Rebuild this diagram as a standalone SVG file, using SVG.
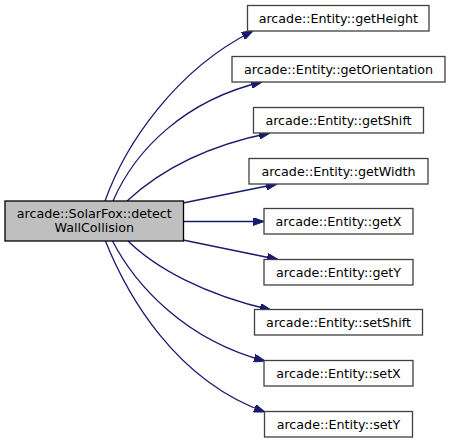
<svg xmlns="http://www.w3.org/2000/svg" width="451" height="443" viewBox="0 0 451 443">
<style>
text{font-family:"DejaVu Sans","Liberation Sans",sans-serif;font-size:12.7px;fill:#000;text-anchor:middle}
.n rect{fill:#fff;stroke:#404040;stroke-width:1.3}
.cur rect{fill:#bfbfbf;stroke:#000;stroke-width:1.3}
.e path{fill:none;stroke:#191970;stroke-width:1.3;marker-end:url(#ah)}
</style>
<defs>
<marker id="ah" viewBox="0 0 11 8" refX="11" refY="4" markerWidth="11" markerHeight="8" markerUnits="userSpaceOnUse" orient="auto">
<path d="M0,0 L11,4 L0,8 z" fill="#191970" stroke="#191970" stroke-width="1"/>
</marker>
</defs>
<rect width="451" height="443" fill="#fff"/>
<g id="connectors" class="e">
<path d="M105,201 C125,145 175,70 253,31"/>
<path d="M113,201 C135,150 185,100 262,82"/>
<path d="M127,201 C155,175 200,147 270,133"/>
<path d="M183,203 L277,184"/>
<path d="M184,221.5 L264,221.5"/>
<path d="M183,240 L278,259.5"/>
<path d="M127,240 C155,268 205,295 271,310"/>
<path d="M112,240 C135,285 185,340 265,361"/>
<path d="M105,240 C127,295 175,380 265,412"/>
</g>
<g id="main" class="cur"><rect x="5" y="201" width="178.5" height="40"/><text x="94.3" y="217.5">arcade::SolarFox::detect</text><text x="94.3" y="231.5">WallCollision</text></g>
<g id="getHeight" class="n"><rect x="247.5" y="5.5" width="181.5" height="25.5"/><text x="338.3" y="22.5">arcade::Entity::getHeight</text></g>
<g id="getOrientation" class="n"><rect x="232" y="56.5" width="213" height="25.5"/><text x="338.5" y="73.5">arcade::Entity::getOrientation</text></g>
<g id="getShift" class="n"><rect x="253.5" y="107.5" width="170" height="25.5"/><text x="338.5" y="124.5">arcade::Entity::getShift</text></g>
<g id="getWidth" class="n"><rect x="249" y="158.5" width="179" height="25.5"/><text x="338.5" y="175.5">arcade::Entity::getWidth</text></g>
<g id="getX" class="n"><rect x="264" y="208.5" width="149" height="25.5"/><text x="338.5" y="225.5">arcade::Entity::getX</text></g>
<g id="getY" class="n"><rect x="264" y="259.5" width="149" height="25.5"/><text x="338.5" y="276.5">arcade::Entity::getY</text></g>
<g id="setShift" class="n"><rect x="254.5" y="309.5" width="168" height="25.5"/><text x="338.5" y="326.5">arcade::Entity::setShift</text></g>
<g id="setX" class="n"><rect x="264" y="360.5" width="149" height="25.5"/><text x="338.5" y="377.5">arcade::Entity::setX</text></g>
<g id="setY" class="n"><rect x="264.5" y="411.5" width="148" height="25.5"/><text x="338.5" y="428.5">arcade::Entity::setY</text></g>
</svg>
